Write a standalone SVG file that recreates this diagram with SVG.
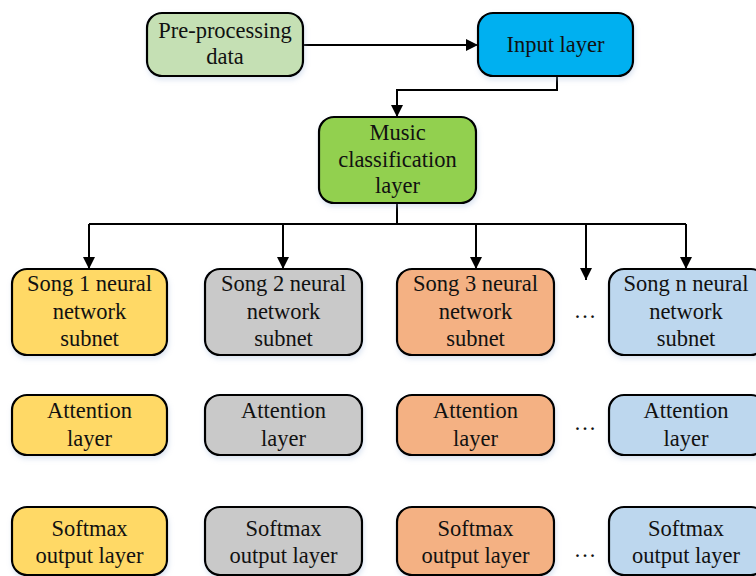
<svg xmlns="http://www.w3.org/2000/svg" width="756" height="576" viewBox="0 0 756 576">
  <style>
    .box { stroke: #000; stroke-width: 2.2; filter: url(#shadow); }
    .t { font-family: 'Liberation Serif', 'DejaVu Serif', serif; font-size: 22.5px; fill: #111; text-anchor: middle; }
    .wire { fill: none; stroke: #000; stroke-width: 2; }
    .green { fill: #C5E0B4; }
    .blue { fill: #00B0F0; }
    .lime { fill: #92D050; }
    .yellow { fill: #FFD966; }
    .grey { fill: #C9C9C9; }
    .orange { fill: #F4B183; }
    .sky { fill: #BDD7EE; }
  </style>
  <defs>
    <marker id="arrow" viewBox="0 0 12 12" refX="12" refY="6" markerWidth="12" markerHeight="12" markerUnits="userSpaceOnUse" orient="auto">
      <path d="M0,0 L12,6 L0,12 z" fill="#000"/>
    </marker>
    <filter id="shadow" x="-10%" y="-10%" width="125%" height="130%">
      <feGaussianBlur in="SourceAlpha" stdDeviation="2.5"/>
      <feOffset dx="1" dy="3" result="b"/>
      <feFlood flood-color="#9DB5D8" flood-opacity="0.35"/>
      <feComposite in2="b" operator="in"/>
      <feMerge><feMergeNode/><feMergeNode in="SourceGraphic"/></feMerge>
    </filter>
  </defs>
  <rect width="756" height="576" fill="#fff"/>

  <g id="connectors">
    <path class="wire" d="M303,45 H478" marker-end="url(#arrow)"/>
    <path class="wire" d="M557,76 V90 H397 V117" marker-end="url(#arrow)"/>
    <path class="wire" d="M397,203 V224"/>
    <path class="wire" d="M89,224 H686"/>
    <path class="wire" d="M89,224 V269" marker-end="url(#arrow)"/>
    <path class="wire" d="M283,224 V269" marker-end="url(#arrow)"/>
    <path class="wire" d="M476,224 V269" marker-end="url(#arrow)"/>
    <path class="wire" d="M586,224 V280" marker-end="url(#arrow)"/>
    <path class="wire" d="M686,224 V269" marker-end="url(#arrow)"/>
  </g>

  <g id="preprocessing">
    <rect class="box green" x="147" y="13" width="156" height="63" rx="15"/>
    <text class="t" x="225" y="38">Pre-processing</text>
    <text class="t" x="225" y="64">data</text>
  </g>
  <g id="input-layer">
    <rect class="box blue" x="478" y="13" width="155" height="63" rx="15"/>
    <text class="t" x="555.5" y="52">Input layer</text>
  </g>
  <g id="music-classification">
    <rect class="box lime" x="319" y="117" width="157" height="86" rx="15"/>
    <text class="t" x="397.5" y="140">Music</text>
    <text class="t" x="397.5" y="167">classification</text>
    <text class="t" x="397.5" y="193">layer</text>
  </g>

  <!-- subnet row -->
  <g id="subnet-1">
    <rect class="box yellow" x="12" y="269" width="155" height="86" rx="15"/>
    <text class="t" x="89.5" y="291">Song 1 neural</text>
    <text class="t" x="89.5" y="319">network</text>
    <text class="t" x="89.5" y="346">subnet</text>
  </g>
  <g id="subnet-2">
    <rect class="box grey" x="205" y="269" width="157" height="86" rx="15"/>
    <text class="t" x="283.5" y="291">Song 2 neural</text>
    <text class="t" x="283.5" y="319">network</text>
    <text class="t" x="283.5" y="346">subnet</text>
  </g>
  <g id="subnet-3">
    <rect class="box orange" x="397" y="269" width="157" height="86" rx="15"/>
    <text class="t" x="475.5" y="291">Song 3 neural</text>
    <text class="t" x="475.5" y="319">network</text>
    <text class="t" x="475.5" y="346">subnet</text>
  </g>
  <g id="subnet-n">
    <rect class="box sky" x="609" y="269" width="157" height="86" rx="15"/>
    <text class="t" x="686" y="291">Song n neural</text>
    <text class="t" x="686" y="319">network</text>
    <text class="t" x="686" y="346">subnet</text>
  </g>

  <!-- attention row -->
  <g id="attention-1">
    <rect class="box yellow" x="12" y="395" width="155" height="60" rx="15"/>
    <text class="t" x="89.5" y="418">Attention</text>
    <text class="t" x="89.5" y="446">layer</text>
  </g>
  <g id="attention-2">
    <rect class="box grey" x="205" y="395" width="157" height="60" rx="15"/>
    <text class="t" x="283.5" y="418">Attention</text>
    <text class="t" x="283.5" y="446">layer</text>
  </g>
  <g id="attention-3">
    <rect class="box orange" x="397" y="395" width="157" height="60" rx="15"/>
    <text class="t" x="475.5" y="418">Attention</text>
    <text class="t" x="475.5" y="446">layer</text>
  </g>
  <g id="attention-n">
    <rect class="box sky" x="609" y="395" width="157" height="60" rx="15"/>
    <text class="t" x="686" y="418">Attention</text>
    <text class="t" x="686" y="446">layer</text>
  </g>

  <!-- softmax row -->
  <g id="softmax-1">
    <rect class="box yellow" x="12" y="507" width="155" height="68" rx="15"/>
    <text class="t" x="89.5" y="536">Softmax</text>
    <text class="t" x="89.5" y="563">output layer</text>
  </g>
  <g id="softmax-2">
    <rect class="box grey" x="205" y="507" width="157" height="68" rx="15"/>
    <text class="t" x="283.5" y="536">Softmax</text>
    <text class="t" x="283.5" y="563">output layer</text>
  </g>
  <g id="softmax-3">
    <rect class="box orange" x="397" y="507" width="157" height="68" rx="15"/>
    <text class="t" x="475.5" y="536">Softmax</text>
    <text class="t" x="475.5" y="563">output layer</text>
  </g>
  <g id="softmax-n">
    <rect class="box sky" x="609" y="507" width="157" height="68" rx="15"/>
    <text class="t" x="686" y="536">Softmax</text>
    <text class="t" x="686" y="563">output layer</text>
  </g>

  <!-- ellipses between column 3 and column n -->
  <g id="ellipses">
    <text class="t" x="585" y="318">…</text>
    <text class="t" x="585" y="430">…</text>
    <text class="t" x="585" y="557">…</text>
  </g>
</svg>
